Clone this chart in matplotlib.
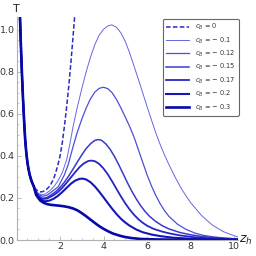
import matplotlib
matplotlib.use("Agg")
import matplotlib.pyplot as plt
from matplotlib.ticker import MultipleLocator

# T(z_h), one curve per c_B
# steep part at small z_h, shared by all curves
z_left = [0.16, 0.2, 0.25, 0.3, 0.35, 0.4, 0.45, 0.5, 0.55, 0.6, 0.65, 0.7, 0.8]
T_left = [1.06, 0.93, 0.79, 0.67, 0.565, 0.475, 0.415, 0.37, 0.338, 0.313, 0.294, 0.278, 0.253]

z_c0 = [0.9, 1.0, 1.1, 1.2, 1.3, 1.4, 1.54, 1.7, 1.8, 1.92, 2.0, 2.1, 2.2, 2.3, 2.4, 2.5, 2.6, 2.68]
T_c0 = [0.24, 0.232, 0.229, 0.23, 0.235, 0.243, 0.258, 0.29, 0.32, 0.365, 0.40, 0.46, 0.54, 0.63, 0.73, 0.845, 0.97, 1.075]

z_c1 = [0.9, 1.0, 1.15, 1.3, 1.5, 1.7, 1.9, 2.1, 2.3, 2.45, 2.6, 2.8, 3.0, 3.2, 3.4, 3.6, 3.8, 4.0, 4.2, 4.38,
        4.6, 4.8, 5.0, 5.2, 5.4, 5.6, 5.8, 6.0, 6.2, 6.4, 6.6, 6.8, 7.0, 7.3, 7.6, 8.0, 8.5, 9.0, 9.5, 10.0, 10.27]
T_c1 = [0.235, 0.222, 0.215, 0.218, 0.232, 0.252, 0.28, 0.32, 0.38, 0.455, 0.54, 0.635, 0.72, 0.80, 0.87, 0.93, 0.975, 1.003, 1.019, 1.024,
        1.012, 0.985, 0.945, 0.89, 0.828, 0.765, 0.70, 0.635, 0.572, 0.51, 0.455, 0.405, 0.36, 0.297, 0.24, 0.178, 0.117, 0.071, 0.04, 0.02, 0.012]

z_c2 = [0.9, 1.0, 1.2, 1.4, 1.6, 1.92, 2.2, 2.38, 2.6, 2.8, 3.0, 3.2, 3.4, 3.6, 3.8, 4.0, 4.2, 4.4, 4.6, 4.8, 5.0,
        5.2, 5.4, 5.6, 5.8, 6.0, 6.2, 6.4, 6.6, 6.8, 7.0, 7.4, 7.8, 8.2, 8.6, 9.05, 9.6, 10.2]
T_c2 = [0.232, 0.218, 0.208, 0.213, 0.228, 0.254, 0.31, 0.36, 0.445, 0.515, 0.575, 0.628, 0.672, 0.704, 0.722, 0.727, 0.72, 0.70, 0.668, 0.628, 0.585,
        0.54, 0.49, 0.43, 0.37, 0.31, 0.258, 0.212, 0.173, 0.14, 0.113, 0.075, 0.05, 0.033, 0.022, 0.015, 0.009, 0.005]

z_c3 = [0.9, 1.0, 1.2, 1.4, 1.6, 1.8, 2.0, 2.2, 2.4, 2.6, 2.8, 3.0, 3.2, 3.4, 3.6, 3.75, 3.9, 4.1, 4.3, 4.5, 4.7, 4.9,
        5.1, 5.3, 5.5, 5.7, 5.9, 6.1, 6.4, 6.7, 7.0, 7.5, 8.0, 8.5, 9.0, 9.7, 10.2]
T_c3 = [0.228, 0.212, 0.198, 0.202, 0.215, 0.23, 0.25, 0.275, 0.305, 0.338, 0.372, 0.405, 0.435, 0.458, 0.474, 0.478, 0.475, 0.458, 0.432, 0.398, 0.358, 0.315,
        0.272, 0.232, 0.196, 0.164, 0.137, 0.114, 0.088, 0.068, 0.053, 0.036, 0.025, 0.017, 0.012, 0.007, 0.005]

z_c4 = [0.9, 1.0, 1.15, 1.4, 1.7, 1.9, 2.1, 2.3, 2.5, 2.7, 2.9, 3.1, 3.3, 3.45, 3.6, 3.8, 4.0, 4.2, 4.4, 4.6, 4.8, 5.0,
        5.2, 5.4, 5.6, 5.8, 6.0, 6.3, 6.66, 7.0, 7.5, 8.19, 9.0, 10.2]
T_c4 = [0.225, 0.208, 0.195, 0.197, 0.213, 0.228, 0.248, 0.272, 0.298, 0.323, 0.347, 0.365, 0.376, 0.378, 0.375, 0.362, 0.34, 0.312, 0.278, 0.242, 0.207, 0.174,
        0.145, 0.12, 0.099, 0.082, 0.068, 0.053, 0.041, 0.032, 0.022, 0.013, 0.007, 0.003]

z_c5 = [0.9, 1.0, 1.1, 1.3, 1.5, 1.7, 1.9, 2.1, 2.3, 2.5, 2.7, 2.9, 3.05, 3.2, 3.4, 3.6, 3.8, 4.0, 4.2, 4.4, 4.6, 4.8,
        5.0, 5.2, 5.5, 5.8, 6.2, 6.64, 7.2, 8.0, 9.0, 10.2]
T_c5 = [0.222, 0.205, 0.192, 0.184, 0.187, 0.196, 0.21, 0.228, 0.248, 0.268, 0.283, 0.291, 0.292, 0.288, 0.275, 0.255, 0.23, 0.203, 0.175, 0.148, 0.123, 0.101,
        0.083, 0.068, 0.05, 0.037, 0.026, 0.018, 0.011, 0.006, 0.003, 0.001]

z_c6 = [0.9, 1.0, 1.1, 1.25, 1.4, 1.6, 1.8, 2.0, 2.2, 2.4, 2.6, 2.8, 3.0, 3.2, 3.4, 3.6, 3.8, 4.0, 4.2, 4.4, 4.6, 4.8,
        5.0, 5.3, 5.7, 6.3, 7.5, 10.2]
T_c6 = [0.215, 0.2, 0.187, 0.177, 0.171, 0.167, 0.165, 0.163, 0.16, 0.156, 0.15, 0.141, 0.128, 0.113, 0.097, 0.081, 0.066, 0.053, 0.042, 0.032, 0.025, 0.019,
        0.014, 0.009, 0.005, 0.003, 0.001, 0.0]

labels = ["0", "- 0.1", "- 0.12", "- 0.15", "- 0.17", "- 0.2", "- 0.3"]
zs = [z_c0, z_c1, z_c2, z_c3, z_c4, z_c5, z_c6]
Ts = [T_c0, T_c1, T_c2, T_c3, T_c4, T_c5, T_c6]
colors = ["#2a2ac8", "#6666e2", "#4e4ed9", "#3a3acf", "#2626c4", "#1616b8", "#0808aa"]
widths = [1.1, 0.7, 0.9, 1.1, 1.3, 1.5, 1.9]

fig = plt.figure(figsize=(2.56, 2.56), dpi=100)
ax = fig.add_axes([0.0645, 0.0625, 0.867, 0.87])

for i in range(len(zs)):
    kw = dict(dashes=(3, 1.5)) if i == 0 else {}
    ax.plot(z_left + zs[i], T_left + Ts[i], color=colors[i], lw=widths[i],
            label=r"$c_B$ = " + labels[i].replace("-", "\u2212"), **kw)

ax.set_xlim(0, 10.2)
ax.set_ylim(0, 1.06)
ax.xaxis.set_minor_locator(MultipleLocator(0.5))
ax.yaxis.set_minor_locator(MultipleLocator(0.05))
ax.set_xticks([2, 4, 6, 8, 10])
ax.set_yticks([0.0, 0.2, 0.4, 0.6, 0.8, 1.0])
ax.set_yticklabels(["0.0", "0.2", "0.4", "0.6", "0.8", "1.0"])

for s in ["top", "right"]:
    ax.spines[s].set_visible(False)
for s in ["left", "bottom"]:
    ax.spines[s].set_color("#b0b0b0")
    ax.spines[s].set_linewidth(0.8)
ax.tick_params(which="both", direction="in", color="#b0b0b0", labelsize=6.8, labelcolor="#333333", pad=1.5)
ax.tick_params(which="major", length=3, width=0.6)
ax.tick_params(which="minor", length=1.5, width=0.5)

fig.text(0.065, 0.965, "T", fontsize=8, ha="center", va="center", color="#222222")
fig.text(0.96, 0.06, r"$z_h$", fontsize=9, ha="center", va="center", color="#222222")

leg = ax.legend(loc="upper right", bbox_to_anchor=(0.9324, 0.9258), bbox_transform=fig.transFigure,
                borderaxespad=0, fontsize=4.8, handlelength=3.5, handletextpad=0.9, labelspacing=0.48,
                borderpad=0.45, frameon=True, fancybox=True, edgecolor="#666666", framealpha=1)
leg.get_frame().set_linewidth(0.8)
for t in leg.get_texts():
    t.set_color("#333333")

fig.savefig("out.png", dpi=100)
